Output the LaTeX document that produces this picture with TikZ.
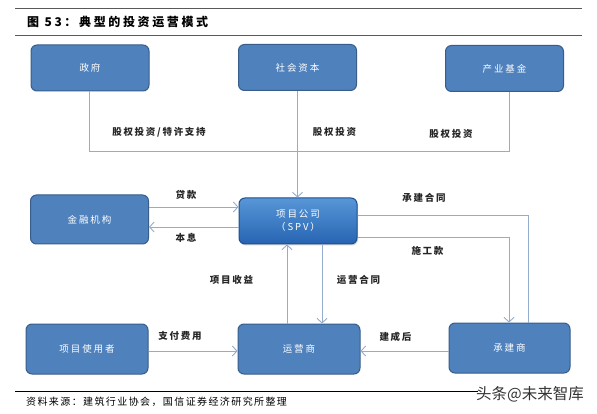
\documentclass[tikz,border=0pt]{standalone}
\usepackage{fontspec}
\setmainfont{Noto Sans CJK SC}
\newfontfamily\boxfont[LetterSpace=20]{Noto Sans CJK SC}
\newfontfamily\lblfont[LetterSpace=18]{Noto Sans CJK SC}
\newfontfamily\titlefont[LetterSpace=22]{Noto Sans CJK SC}
\newfontfamily\srcfont[LetterSpace=14]{Noto Sans CJK SC}
\usetikzlibrary{arrows.meta,shadows}
\definecolor{boxblue}{RGB}{79,129,189}
\definecolor{boxedge}{RGB}{56,93,138}
\definecolor{linecol}{RGB}{150,172,204}
\definecolor{spvtop}{RGB}{88,150,215}
\definecolor{spvbot}{RGB}{38,100,178}
\begin{document}
\begin{tikzpicture}[x=1pt,y=-1pt,
  box/.style={draw=boxedge, line width=1pt, fill=boxblue, rounded corners=6pt,
    minimum width=118pt, minimum height=46pt, inner sep=0pt, text=white,
    font=\boxfont\fontsize{9.5}{13}\selectfont, align=center},
  spvbox/.style={box, fill=none, top color=spvtop, bottom color=spvbot, draw=spvbot!80!black,
    drop shadow={opacity=0.3, shadow xshift=1pt, shadow yshift=-1.5pt}},
  conn/.style={draw=linecol, line width=0.9pt},
  arr/.style={conn, -{Straight Barb[length=4.5pt,width=10pt]}},
  lbl/.style={font=\lblfont\bfseries\fontsize{9.5}{11}\selectfont, text=black!85, inner sep=0pt},
  rule/.style={draw=black!65, line width=1pt}
]
\useasboundingbox (0,0) rectangle (597,414);
\fill[white] (0,0) rectangle (597,414);

% title
\draw[rule] (15,9) -- (582,9);
\node[anchor=west, inner sep=0pt, font=\titlefont\bfseries\fontsize{12}{14}\selectfont] (title) at (27,22.5) {图 53：典型的投资运营模式};
\draw[rule] (15,35.5) -- (582,35.5);

% boxes
\node[box] (gov) at (90,68) {政府};
\node[box] (soc) at (297.5,67.5) {社会资本};
\node[box] (fund) at (504.5,68.5) {产业基金};
\node[box, minimum height=49pt] (fin) at (89.5,219.5) {金融机构};
\node[spvbox] (spv) at (298,221) {项目公司\\（SPV）};
\node[box, minimum width=122pt, minimum height=50pt] (user) at (87,349) {项目使用者};
\node[box, minimum width=122pt, minimum height=50pt] (op) at (299,349) {运营商};
\node[box, minimum width=121pt, minimum height=50pt] (con) at (509.5,348) {承建商};

% top connectors
\coordinate (jl) at (89,151);
\coordinate (jr) at (509,151);
\draw[conn] (gov.south -| jl) -- (jl) -- (jr) -- (fund.south -| jr);
\draw[arr] (soc.south -| 297.5,0) -- (spv.north -| 297.5,0);

% finance
\draw[arr] (fin.east |- 0,207) -- (spv.west |- 0,207);
\draw[arr] (spv.west |- 0,227) -- (fin.east |- 0,227);

% contractor
\draw[conn] (spv.east |- 0,215) -| (con.north -| 528,0);
\draw[arr] (spv.east |- 0,237) -| (con.north -| 509,0);

% operator
\draw[arr] (op.north -| 287,0) -- (spv.south -| 287,0);
\draw[arr] (spv.south -| 322,0) -- (op.north -| 322,0);

% bottom row
\draw[arr] (user.east |- 0,351) -- (op.west |- 0,351);
\draw[arr] (con.west |- 0,351) -- (op.east |- 0,351);

% labels
\node[lbl] (l1) at (159,132) {股权投资/特许支持};
\node[lbl] (l2) at (334.5,132) {股权投资};
\node[lbl] (l3) at (451,134) {股权投资};
\node[lbl] (l4) at (186,195) {贷款};
\node[lbl] (l5) at (186,238) {本息};
\node[lbl] (l6) at (424,198) {承建合同};
\node[lbl] (l7) at (427.5,251) {施工款};
\node[lbl] (l8) at (231.5,280) {项目收益};
\node[lbl] (l9) at (358.5,280) {运营合同};
\node[lbl] (l10) at (180,336) {支付费用};
\node[lbl] (l11) at (395.5,337) {建成后};

% footer
\draw[black, line width=0.8pt] (15,391) -- (478,391);
\node[anchor=west, inner sep=0pt, font=\srcfont\fontsize{10}{12}\selectfont] (src) at (26,401.5) {资料来源：建筑行业协会，国信证券经济研究所整理};
\node[anchor=west, inner sep=0pt, text=black!80, font=\fontsize{15.5}{17}\selectfont] (wm) at (476,394.5) {头条@未来智库};
\end{tikzpicture}
\end{document}
